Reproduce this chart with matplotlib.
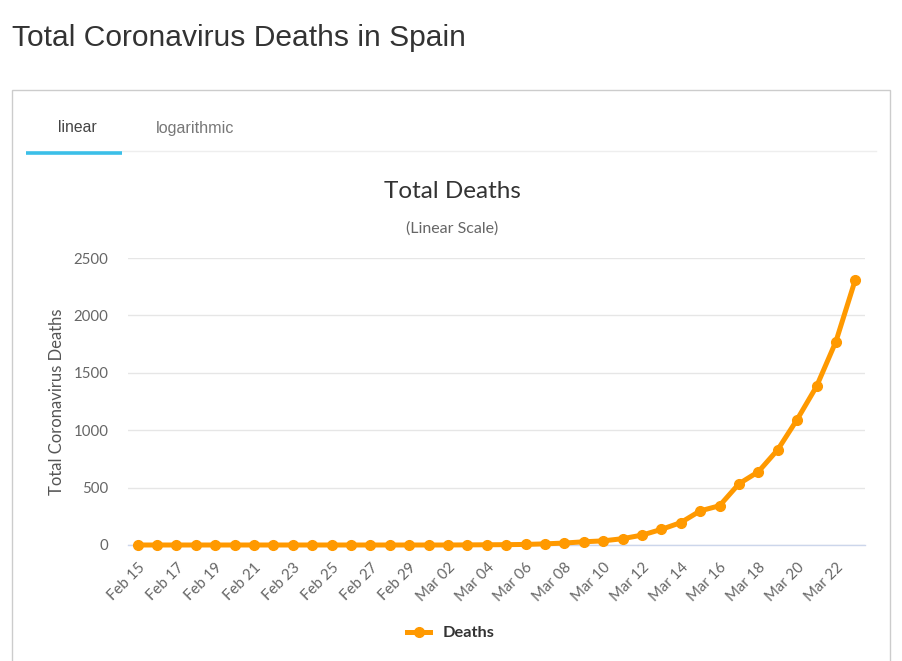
import matplotlib
matplotlib.use("Agg")
import matplotlib.pyplot as plt
from matplotlib.patches import Rectangle
from matplotlib.lines import Line2D

# ---- data ----
dates = (["Feb %d" % d for d in range(15, 30)] +
         ["Mar %02d" % d for d in range(1, 24)])
deaths = [0, 0, 0, 0, 0, 0, 0, 0, 0, 0, 0, 0, 0, 0, 0,      # Feb 15-29
          0, 0, 1, 2, 3, 5, 10, 17, 28, 36, 55, 86, 136, 195,  # Mar 1-14
          297, 342, 533, 638, 830, 1093, 1381, 1772, 2311]     # Mar 15-23
yticks = [0, 500, 1000, 1500, 2000, 2500]
page_title = "Total Coronavirus Deaths in Spain"
chart_title = "Total Deaths"
chart_subtitle = "(Linear Scale)"
ylabel = "Total Coronavirus Deaths"
series_name = "Deaths"
tabs = ["linear", "logarithmic"]

ORANGE = "#FF9900"
W, H = 902, 661
fig = plt.figure(figsize=(W / 100, H / 100), dpi=100)
fig.patch.set_facecolor("white")

def fx(px):
    return px / W

def fy(py):
    return 1 - py / H

# page title
fig.text(fx(12), fy(38), page_title, fontsize=21.6, color="#333333",
         family="Liberation Sans", va="center", ha="left")

# box
fig.patches.append(Rectangle((fx(12), fy(700)), fx(890) - fx(12), fy(90) - fy(700),
                             transform=fig.transFigure, fill=False,
                             edgecolor="#cccccc", linewidth=1))
# tabs
fig.text(fx(77), fy(128), tabs[0], fontsize=11.3, color="#444444",
         family="Liberation Sans", ha="center", va="center")
fig.text(fx(195), fy(128), tabs[1], fontsize=11.6, color="#777777",
         family="Liberation Sans", ha="center", va="center")
fig.lines.append(Line2D([fx(122), fx(876)], [fy(150.5), fy(150.5)],
                        transform=fig.transFigure, color="#eeeeee", linewidth=1))
fig.lines.append(Line2D([fx(26), fx(122)], [fy(153), fy(153)],
                        transform=fig.transFigure, color="#3bbfe8", linewidth=2.6,
                        solid_capstyle="butt"))

# chart titles
fig.text(fx(452), fy(192), chart_title, fontsize=17.5, color="#333333",
         family="Lato", ha="center", va="center")
fig.text(fx(452), fy(229), chart_subtitle, fontsize=11.5, color="#666666",
         family="Lato", ha="center", va="center")

# axes
ax = fig.add_axes([fx(128), fy(545), fx(865) - fx(128), fy(258) - fy(545)])
x = list(range(len(dates)))
ax.plot(x, deaths, color=ORANGE, linewidth=3.6, marker="o", markersize=7,
        solid_joinstyle="round", zorder=3, clip_on=False)
ax.set_xlim(-0.5, len(dates) - 0.5)
ax.set_ylim(0, 2500)
ax.set_yticks(yticks)
ax.set_yticklabels([str(v) for v in yticks], family="Lato", fontsize=10.8, color="#666666")
ax.yaxis.grid(True, color="#e6e6e6", linewidth=1)
ax.set_axisbelow(True)
ax.tick_params(axis="y", length=0, pad=14)
ax.set_xticks(x[::2])
ax.set_xticklabels(dates[::2], rotation=45, ha="right", rotation_mode="anchor",
                   family="Lato", fontsize=10.8, color="#666666")
ax.tick_params(axis="x", length=0, pad=11)
for s in ["top", "right", "left"]:
    ax.spines[s].set_visible(False)
ax.spines["bottom"].set_color("#ccd6eb")
ax.spines["bottom"].set_linewidth(1)
ax.set_ylabel(ylabel, family="Lato", fontsize=12, color="#555555", labelpad=6)

# legend
leg = ax.legend([Line2D([0], [0], color=ORANGE, linewidth=3.6, marker="o", markersize=7)],
                [series_name], loc="center", bbox_to_anchor=(fx(451), fy(633)),
                bbox_transform=fig.transFigure, frameon=False, handlelength=1.4,
                prop={"family": "Lato", "weight": "bold", "size": 11.8})
for t in leg.get_texts():
    t.set_color("#333333")

fig.savefig("out.png", dpi=100, facecolor="white")
